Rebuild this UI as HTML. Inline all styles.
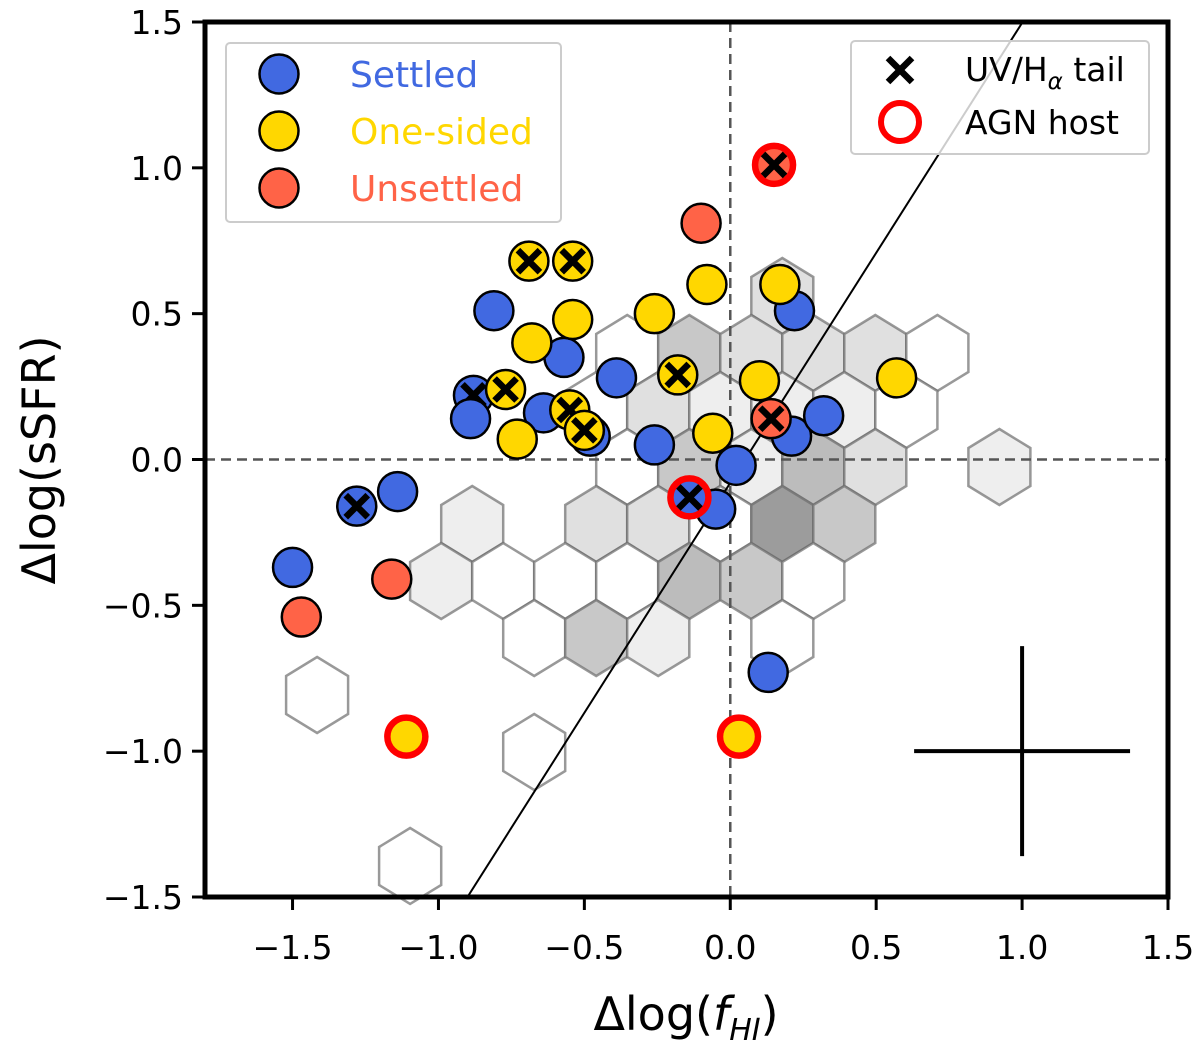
<!DOCTYPE html>
<html><head><meta charset="utf-8"><style>
html,body{margin:0;padding:0;background:#fff;}
svg{display:block;font-family:"DejaVu Sans","Liberation Sans",sans-serif;}
</style></head><body>
<svg id="chart" width="1200" height="1046" viewBox="0 0 1200 1046" xmlns="http://www.w3.org/2000/svg">
<g id="hexes"></g>
<g id="guides"></g>
<g id="points"></g>
<g id="axes"></g>
<g id="legends"></g>
</svg>
<script>
const xTicks=[-1.5,-1.0,-0.5,0.0,0.5,1.0,1.5];
const yTicks=[-1.5,-1.0,-0.5,0.0,0.5,1.0,1.5];
const xTickLabels=["\u22121.5","\u22121.0","\u22120.5","0.0","0.5","1.0","1.5"];
const yTickLabels=["\u22121.5","\u22121.0","\u22120.5","0.0","0.5","1.0","1.5"];
// hexbin: column index, row index, count
const hexCol=[5, 3,4,5,6,7,8, 2,3,4,5,6,7, 3,4,5,6,7,9, 0,2,3,4,5,6, 0,1,2,3,4,5,6, 1,2,3,5, -2, 1, -1];
const hexRow=[4, 3,3,3,3,3,3, 2,2,2,2,2,2, 1,1,1,1,1,1, 0,0,0,0,0,0, -1,-1,-1,-1,-1,-1,-1, -2,-2,-2,-2, -3, -4, -6];
const hexCount=[3, 1,4,3,3,3,1, 1,3,2,2,2,1, 1,4,2,5,3,2, 2,3,3,1,7,4, 2,1,1,1,5,4,1, 1,4,2,1, 1, 1, 1];
// points
const settledX=[-1.50,-1.14,-1.28,-0.88,-0.89,-0.81,-0.57,-0.64,-0.48,-0.39,-0.26,0.02,-0.05,0.21,0.32,0.22,0.13,-0.14];
const settledY=[-0.37,-0.11,-0.16,0.22,0.14,0.51,0.35,0.16,0.08,0.28,0.05,-0.02,-0.17,0.08,0.15,0.51,-0.73,-0.13];
const settledTail=[0,0,1,1,0,0,0,0,0,0,0,0,0,0,0,0,0,1];
const settledAGN=[0,0,0,0,0,0,0,0,0,0,0,0,0,0,0,0,0,1];
const onesidedX=[-0.69,-0.54,-0.68,-0.54,-0.77,-0.73,-0.55,-0.50,-0.26,-0.18,-0.08,-0.06,0.10,0.17,0.57,-1.11,0.03];
const onesidedY=[0.68,0.68,0.40,0.48,0.24,0.07,0.17,0.10,0.50,0.29,0.60,0.09,0.27,0.60,0.28,-0.95,-0.95];
const onesidedTail=[1,1,0,0,1,0,1,1,0,1,0,0,0,0,0,0,0];
const onesidedAGN=[0,0,0,0,0,0,0,0,0,0,0,0,0,0,0,1,1];
const unsettledX=[-1.47,-1.16,-0.10,0.14,0.15];
const unsettledY=[-0.54,-0.41,0.81,0.14,1.01];
const unsettledTail=[0,0,0,1,1];
const unsettledAGN=[0,0,0,0,1];
const fitSlope=1.577, fitIntercept=-0.08;
const errX=1.0, errY=-1.0, errDX=0.37, errDY=0.36;

const X0=205,X1=1168,Y0=22,Y1=897,xmin=-1.8,xmax=1.5,ymin=-1.5,ymax=1.5;
const sx=v=>X0+(v-xmin)/(xmax-xmin)*(X1-X0);
const sy=v=>Y1-(v-ymin)/(ymax-ymin)*(Y1-Y0);
const NS="http://www.w3.org/2000/svg";
function mk(tag,attrs,parent){const e=document.createElementNS(NS,tag);for(const k in attrs)e.setAttribute(k,attrs[k]);parent.appendChild(e);return e;}
const gH=document.getElementById('hexes'),gG=document.getElementById('guides'),gP=document.getElementById('points'),gA=document.getElementById('axes'),gL=document.getElementById('legends');

const hexDX=62/291.7, hexDY=57/291.7, hx0=(472-730)/291.7, hy0=(460-524.5)/291.7;
const shade={1:"#ffffff",2:"#eeeeee",3:"#e0e0e0",4:"#c8c8c8",5:"#bcbcbc",7:"#9c9c9c"};
for(let i=0;i<hexCol.length;i++){
  const cxd=hx0+(hexCol[i]+(Math.abs(hexRow[i])%2?-0.5:0))*hexDX;
  const cyd=hy0+hexRow[i]*hexDY;
  const cx=sx(cxd),cy=sy(cyd);
  const w=sx(cxd+hexDX/2)-cx, h=(sy(cyd)-sy(cyd+hexDY))*2/3;
  const pts=[[0,-h],[w,-h/2],[w,h/2],[0,h],[-w,h/2],[-w,-h/2]].map(p=>(cx+p[0]).toFixed(1)+","+(cy+p[1]).toFixed(1)).join(" ");
  const p=mk('polygon',{points:pts,fill:shade[hexCount[i]]||"#ffffff",stroke:"rgba(110,110,110,0.7)","stroke-width":2.5},gH);
  
  
}
let l=mk('line',{x1:sx(0),x2:sx(0),y1:Y0,y2:Y1,stroke:"#555","stroke-width":2.5,"stroke-dasharray":"10,6"},gG);

l=mk('line',{x1:X0,x2:X1,y1:sy(0),y2:sy(0),stroke:"#555","stroke-width":2.5,"stroke-dasharray":"10,6"},gG);

const xa=(ymin-fitIntercept)/fitSlope, xb=(ymax-fitIntercept)/fitSlope;
l=mk('line',{x1:sx(xa),y1:sy(ymin),x2:sx(xb),y2:sy(ymax),stroke:"#000","stroke-width":2},gG);

l=mk('line',{x1:sx(errX-errDX),x2:sx(errX+errDX),y1:sy(errY),y2:sy(errY),stroke:"#000","stroke-width":4},gG);

l=mk('line',{x1:sx(errX),x2:sx(errX),y1:sy(errY-errDY),y2:sy(errY+errDY),stroke:"#000","stroke-width":4},gG);


function drawX(cx,cy,parent,s){const g=mk('g',{},parent);
  mk('line',{x1:cx-s,y1:cy-s,x2:cx+s,y2:cy+s,stroke:"#000","stroke-width":6.5},g);
  mk('line',{x1:cx-s,y1:cy+s,x2:cx+s,y2:cy-s,stroke:"#000","stroke-width":6.5},g);return g;}
function series(xs,ys,tail,agn,color,name){
  for(let i=0;i<xs.length;i++){
    const cx=sx(xs[i]),cy=sy(ys[i]);
    let c;
    if(agn[i]){c=mk('circle',{cx:cx,cy:cy,r:19,fill:color,stroke:"#ff0000","stroke-width":6.5},gP);}
    else{c=mk('circle',{cx:cx,cy:cy,r:19.5,fill:color,stroke:"#000","stroke-width":2.5},gP);}
    
    
    if(tail[i]){const g=drawX(cx,cy,gP,11);
      
      }
  }
}
series(settledX,settledY,settledTail,settledAGN,"#4169e1","settled");
series(onesidedX,onesidedY,onesidedTail,onesidedAGN,"#ffd700","one-sided");
series(unsettledX,unsettledY,unsettledTail,unsettledAGN,"#ff6347","unsettled");

let r=mk('rect',{x:X0,y:Y0,width:X1-X0,height:Y1-Y0,fill:"none",stroke:"#000","stroke-width":5},gA);

xTicks.forEach((v,i)=>{const x=sx(v);
  mk('line',{x1:x,x2:x,y1:Y1,y2:Y1+13,stroke:"#000","stroke-width":3},gA);
  const t=mk('text',{x:x,y:Y1+62,"text-anchor":"middle","font-size":33},gA);t.textContent=xTickLabels[i];
  });
yTicks.forEach((v,i)=>{const y=sy(v);
  mk('line',{x1:X0-13,x2:X0,y1:y,y2:y,stroke:"#000","stroke-width":3},gA);
  const t=mk('text',{x:X0-22,y:y+12,"text-anchor":"end","font-size":33},gA);t.textContent=yTickLabels[i];
  });
let t=mk('text',{x:686,y:1030,"text-anchor":"middle","font-size":46},gA);
t.innerHTML='Δlog(<tspan font-style="italic">f</tspan><tspan font-style="italic" font-size="30" dy="10">HI</tspan><tspan dy="-10">)</tspan>';

t=mk('text',{x:0,y:0,"text-anchor":"middle","font-size":46,transform:"translate(55,460) rotate(-90)"},gA);
t.textContent='Δlog(sSFR)';


const lg=mk('g',{},gL);
mk('rect',{x:226,y:43,width:335,height:179,rx:4,fill:"#fff","fill-opacity":0.8,stroke:"#ccc","stroke-width":2},lg);
[["Settled","#4169e1"],["One-sided","#ffd700"],["Unsettled","#ff6347"]].forEach((e,i)=>{
  const y=74+i*57;
  const c=mk('circle',{cx:279,cy:y,r:19.5,fill:e[1],stroke:"#000","stroke-width":2.5},lg);
  
  const tx=mk('text',{x:350,y:y+13,"font-size":36,fill:e[1]},lg);tx.textContent=e[0];
  });
const lr=mk('g',{},gL);
mk('rect',{x:851,y:41,width:298,height:113,rx:4,fill:"#fff","fill-opacity":0.8,stroke:"#ccc","stroke-width":2},lr);
drawX(900,70,lr,12);
t=mk('text',{x:965,y:81,"font-size":33},lr);t.innerHTML='UV/H<tspan font-style="italic" font-size="23" dy="8">α</tspan><tspan dy="-8"> tail</tspan>';

mk('circle',{cx:900,cy:122,r:19,fill:"#fff",stroke:"#ff0000","stroke-width":6},lr);
t=mk('text',{x:965,y:134,"font-size":33},lr);t.textContent='AGN host';

</script>
</body></html>
